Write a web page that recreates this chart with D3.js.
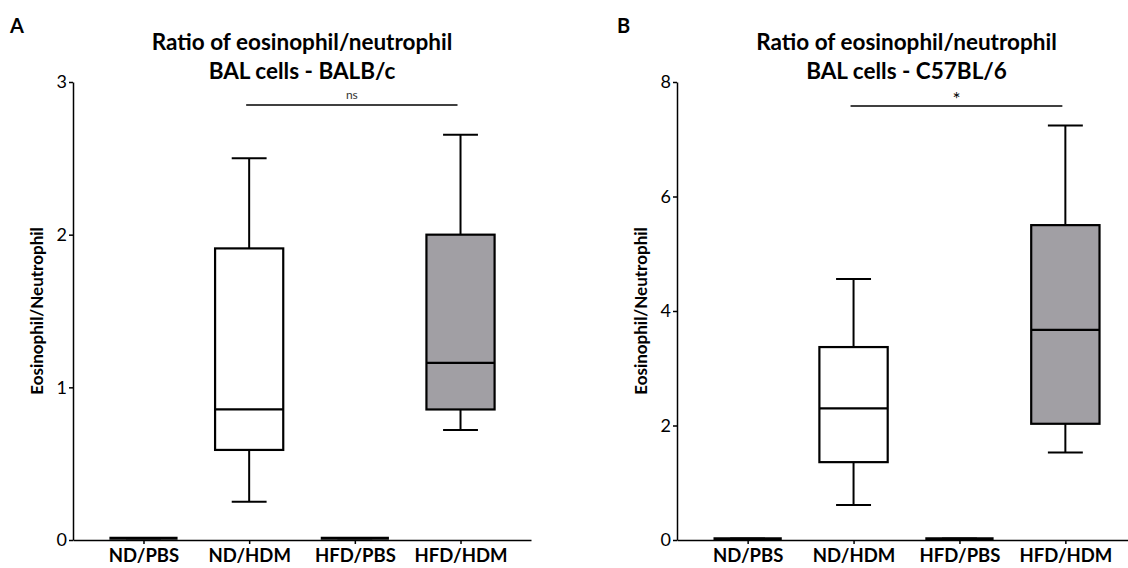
<!DOCTYPE html>
<html>
<head>
<meta charset="utf-8">
<script src="https://cdn.jsdelivr.net/npm/d3@7"></script>
<style>
  html, body { margin: 0; padding: 0; background: #fff; }
  svg { display: block; }
  text { font-family: Lato, "Open Sans", sans-serif; fill: #000; }
</style>
</head>
<body>
<svg id="chart" width="1128" height="568"></svg>
<script>
// ---------- Data ----------
const categories = ["ND/PBS", "ND/HDM", "HFD/PBS", "HFD/HDM"];

// Panel A: BALB/c
const panelA_min    = [0.012, 0.25, 0.012, 0.72];
const panelA_q1     = [0.012, 0.59, 0.012, 0.855];
const panelA_median = [0.012, 0.855, 0.012, 1.16];
const panelA_q3     = [0.012, 1.91, 0.012, 2.0];
const panelA_max    = [0.012, 2.5, 0.012, 2.655];
const panelA_ticks  = [0, 1, 2, 3];

// Panel B: C57BL/6
const panelB_min    = [0.02, 0.61, 0.02, 1.53];
const panelB_q1     = [0.02, 1.36, 0.02, 2.03];
const panelB_median = [0.02, 2.30, 0.02, 3.67];
const panelB_q3     = [0.02, 3.37, 0.02, 5.50];
const panelB_max    = [0.02, 4.56, 0.02, 7.24];
const panelB_ticks  = [0, 2, 4, 6, 8];

const groupFill = ["#ffffff", "#ffffff", "#a19fa4", "#a19fa4"];

const svg = d3.select("#chart");

function drawPanel(cfg) {
  const g = svg.append("g");
  const x = d3.scalePoint().domain(categories).range([cfg.left, cfg.right]).padding(0.667);
  const y = d3.scaleLinear().domain([0, cfg.ymax]).range([cfg.bottom, cfg.top]);
  const step = x.step();
  const boxW = step * 0.645;
  const capW = step * 0.33;

  // axes
  const yAxis = g.append("g")
    .attr("transform", `translate(${cfg.left},0)`)
    .call(d3.axisLeft(y).tickValues(cfg.ticks).tickFormat(d3.format("d")).tickSize(4).tickSizeOuter(0).tickPadding(2));
  yAxis.select(".domain").attr("stroke", "#000").attr("stroke-width", 1.5);
  yAxis.selectAll(".tick line").attr("stroke-width", 1.5);
  yAxis.selectAll("text").attr("font-size", 18).attr("font-family", "Lato, sans-serif");

  const xAxis = g.append("g")
    .attr("transform", `translate(0,${cfg.bottom})`)
    .call(d3.axisBottom(x).tickSize(4).tickSizeOuter(0).tickPadding(5));
  xAxis.select(".domain").attr("stroke", "#000").attr("stroke-width", 1.5);
  xAxis.selectAll(".tick line").attr("stroke-width", 1.5);
  xAxis.selectAll("text").attr("font-size", 18.5).attr("font-weight", "bold").attr("font-family", "Lato, sans-serif");

  // boxes
  categories.forEach((c, i) => {
    const cx = x(c);
    const bg = g.append("g").attr("stroke", "#000").attr("stroke-width", 2).attr("fill", "none");
    bg.append("line").attr("x1", cx).attr("x2", cx).attr("y1", y(cfg.q3[i])).attr("y2", y(cfg.max[i]));
    bg.append("line").attr("x1", cx).attr("x2", cx).attr("y1", y(cfg.q1[i])).attr("y2", y(cfg.min[i]));
    bg.append("line").attr("x1", cx - capW / 2).attr("x2", cx + capW / 2).attr("y1", y(cfg.max[i])).attr("y2", y(cfg.max[i]));
    bg.append("line").attr("x1", cx - capW / 2).attr("x2", cx + capW / 2).attr("y1", y(cfg.min[i])).attr("y2", y(cfg.min[i]));
    const h = y(cfg.q1[i]) - y(cfg.q3[i]);
    bg.append("rect")
      .attr("x", cx - boxW / 2).attr("width", boxW)
      .attr("y", y(cfg.q3[i])).attr("height", Math.max(0, h))
      .attr("fill", groupFill[i]).attr("stroke-width", h < 1 ? 3 : 2.2);
    bg.append("line").attr("x1", cx - boxW / 2).attr("x2", cx + boxW / 2)
      .attr("y1", y(cfg.median[i])).attr("y2", y(cfg.median[i])).attr("stroke-width", h < 1 ? 3 : 2.2);
  });

  // significance bar
  const x1 = x(cfg.sig[0]) - 3, x2 = x(cfg.sig[1]) - 3;
  g.append("line").attr("x1", x1).attr("x2", x2).attr("y1", cfg.sigY).attr("y2", cfg.sigY)
    .attr("stroke", "#000").attr("stroke-width", 1.3);
  g.append("text").attr("x", (x1 + x2) / 2).attr("y", cfg.sigY - cfg.sigOff)
    .attr("text-anchor", "middle").attr("font-size", cfg.sigSize)
    .attr("font-family", "Arial, 'Liberation Sans', sans-serif")
    .style("fill", cfg.sigColor)
    .text(cfg.sigText);

  // titles
  const tc = (cfg.left + cfg.right) / 2;
  g.append("text").attr("x", tc).attr("y", 50).attr("text-anchor", "middle")
    .attr("font-size", 22.5).attr("font-weight", "bold").text(cfg.title1);
  g.append("text").attr("x", tc).attr("y", 79).attr("text-anchor", "middle")
    .attr("font-size", 22.5).attr("font-weight", "bold").text(cfg.title2);

  // panel letter
  g.append("text").attr("x", cfg.letterX).attr("y", 33)
    .attr("font-size", 20).attr("font-weight", "bold").text(cfg.letter);

  // y label
  g.append("text")
    .attr("transform", `translate(${cfg.left - 30},${(cfg.top + cfg.bottom) / 2}) rotate(-90)`)
    .attr("text-anchor", "middle").attr("font-size", 17).attr("font-weight", "bold")
    .text("Eosinophil/Neutrophil");
}

drawPanel({
  left: 73, right: 531, top: 82, bottom: 540, ymax: 3, ticks: panelA_ticks,
  min: panelA_min, q1: panelA_q1, median: panelA_median, q3: panelA_q3, max: panelA_max,
  sig: ["ND/HDM", "HFD/HDM"], sigText: "ns", sigSize: 12, sigY: 105, sigOff: 6, sigColor: "#333",
  title1: "Ratio of eosinophil/neutrophil", title2: "BAL cells - BALB/c",
  letter: "A", letterX: 10
});

drawPanel({
  left: 677, right: 1136, top: 82, bottom: 540, ymax: 8, ticks: panelB_ticks,
  min: panelB_min, q1: panelB_q1, median: panelB_median, q3: panelB_q3, max: panelB_max,
  sig: ["ND/HDM", "HFD/HDM"], sigText: "*", sigSize: 19, sigY: 106, sigOff: 0, sigColor: "#000",
  title1: "Ratio of eosinophil/neutrophil", title2: "BAL cells - C57BL/6",
  letter: "B", letterX: 617
});
</script>
</body>
</html>
